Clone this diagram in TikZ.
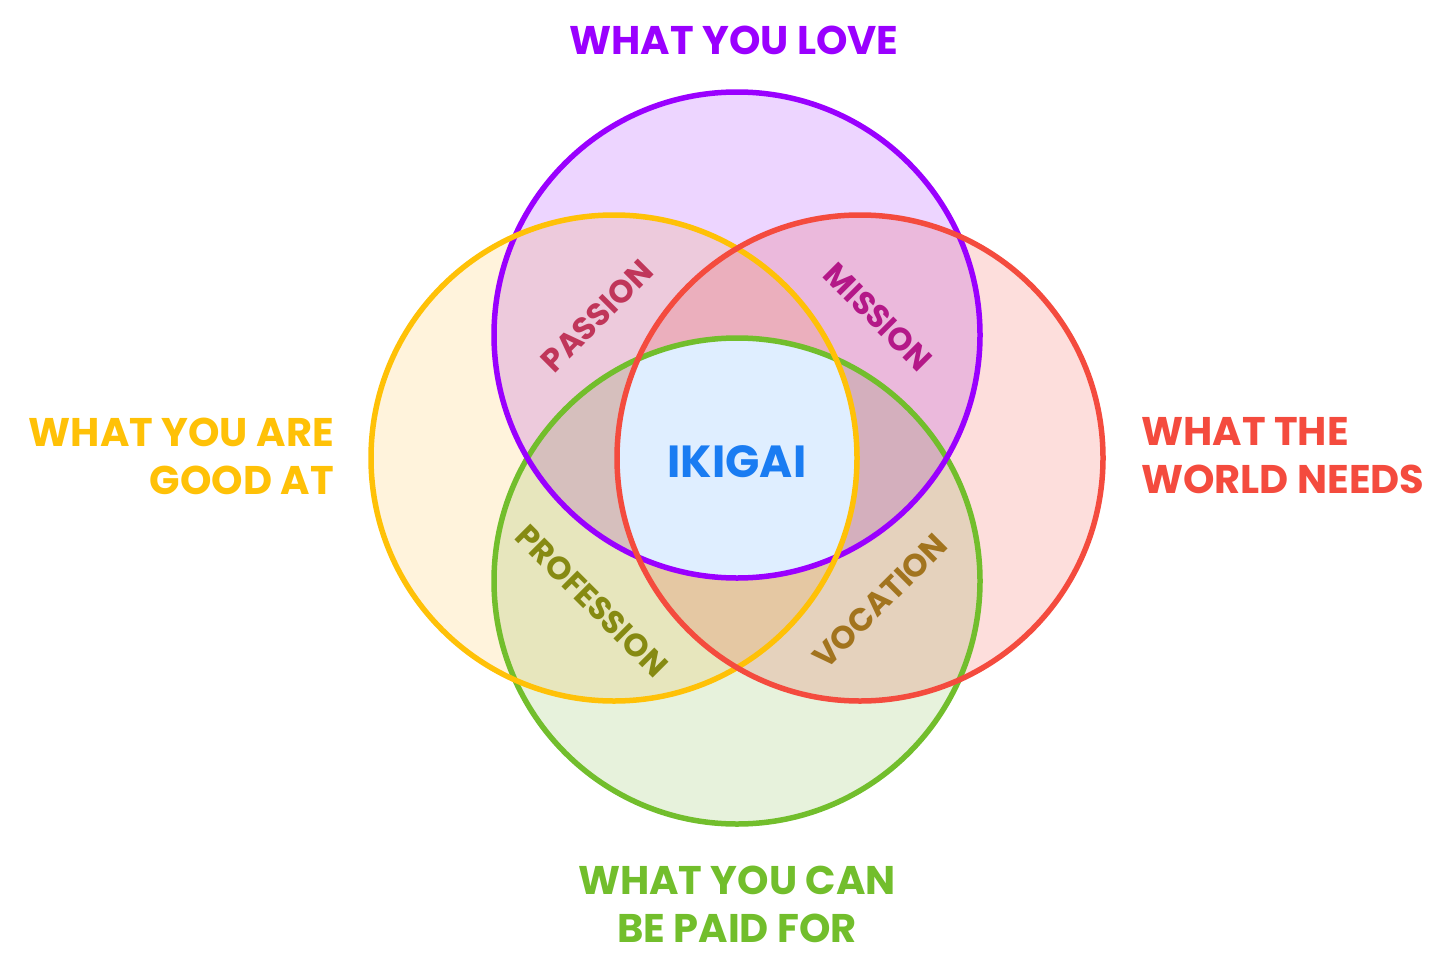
\documentclass[tikz,border=0pt]{standalone}
\usepackage{fontspec}
\setmainfont{Poppins}
\definecolor{cpur}{HTML}{9A00FF}
\definecolor{cyel}{HTML}{FFC107}
\definecolor{cred}{HTML}{F44B3E}
\definecolor{cgrn}{HTML}{72BE2C}
\definecolor{fpur}{HTML}{EDD5FF}
\definecolor{fyel}{HTML}{FFF3DC}
\definecolor{fred}{HTML}{FDDEDC}
\definecolor{fgrn}{HTML}{E7F2DC}
\definecolor{fctr}{HTML}{DFEEFF}
\definecolor{tpas}{HTML}{C0365A}
\definecolor{tmis}{HTML}{B41888}
\definecolor{tpro}{HTML}{868A12}
\definecolor{tvoc}{HTML}{A2741E}
\definecolor{tiki}{HTML}{1A7CF2}
\tikzset{
  ring/.style={line width=5.5pt},
  biglabel/.style={font=\fontsize{40}{48}\selectfont\bfseries, inner sep=0pt},
  ovlabel/.style={font=\fontsize{32}{36}\selectfont\bfseries, inner sep=0pt},
}
\begin{document}
\begin{tikzpicture}[x=1pt,y=-1pt]
\useasboundingbox (0,0) rectangle (1456,974);
\def\R{243}
\coordinate (cP) at (737,335);
\coordinate (cY) at (614,458);
\coordinate (cR) at (860,458);
\coordinate (cG) at (737,581);
% fills
\begin{scope}[blend group=multiply]
  \fill[fpur] (cP) circle (\R);
  \fill[fyel] (cY) circle (\R);
  \fill[fred] (cR) circle (\R);
  \fill[fgrn] (cG) circle (\R);
\end{scope}
\begin{scope}
  \clip (cP) circle (\R);
  \clip (cY) circle (\R);
  \clip (cR) circle (\R);
  \fill[fctr] (cG) circle (\R);
\end{scope}
% rings
\draw[ring, cgrn] (cG) circle (\R);
\draw[ring, cpur] (cP) circle (\R);
\draw[ring, cyel] (cY) circle (\R);
\draw[ring, cred] (cR) circle (\R);
% outer labels
\node[biglabel, text=cpur] (love) at (734,40) {WHAT YOU LOVE};
\node[biglabel, text=cyel, align=right, anchor=east] (good) at (334,456) {WHAT YOU ARE\\GOOD AT};
\node[biglabel, text=cred, align=left, anchor=west] (world) at (1141,456) {WHAT THE\\WORLD NEEDS};
\node[biglabel, text=cgrn, align=center] (paid) at (737,904) {WHAT YOU CAN\\BE PAID FOR};
% overlap labels
\node[ovlabel, text=tpas, rotate=45] (passion) at (597,316) {PASSION};
\node[ovlabel, text=tmis, rotate=-45] (mission) at (878,317) {MISSION};
\node[ovlabel, text=tpro, rotate=-45] (profession) at (592,601) {PROFESSION};
\node[ovlabel, text=tvoc, rotate=45] (vocation) at (880,601) {VOCATION};
\node[font=\fontsize{45}{52}\selectfont\bfseries, text=tiki, inner sep=0pt] (ikigai) at (737,462) {IKIGAI};
\end{tikzpicture}
\end{document}
